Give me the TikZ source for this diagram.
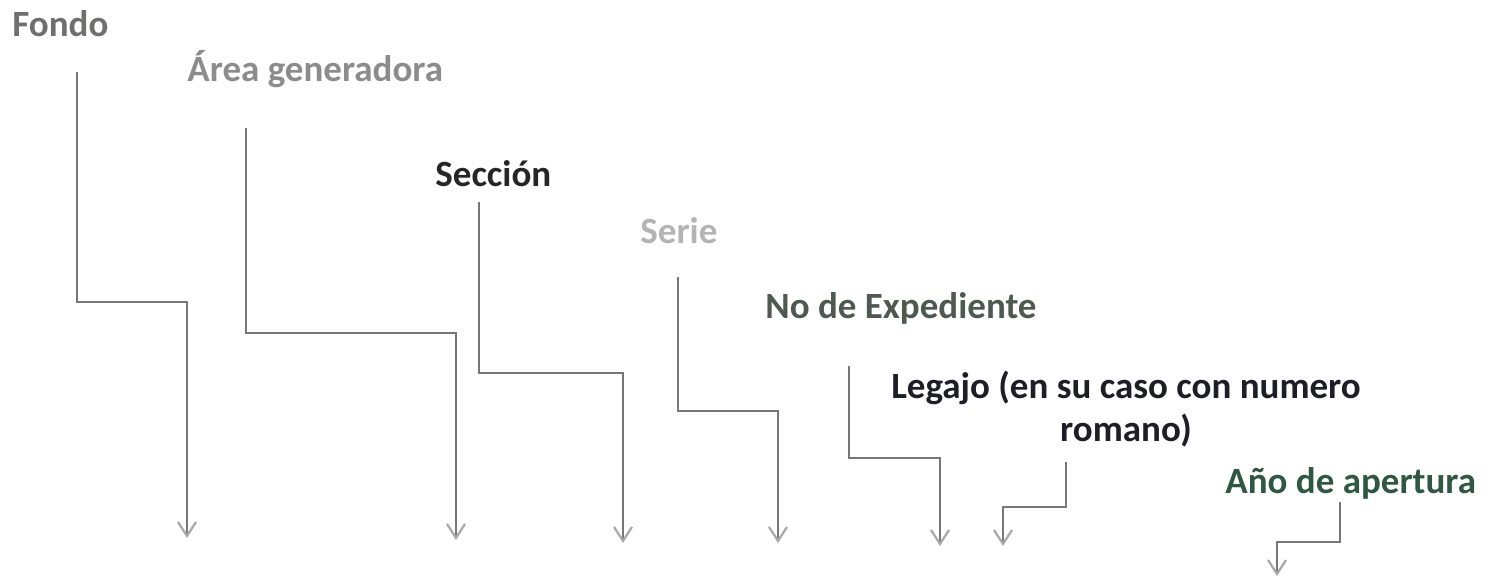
\documentclass[tikz,border=0pt]{standalone}
\usepackage{fontspec}
\setmainfont{Carlito}
\usetikzlibrary{arrows.meta}
\definecolor{cFondo}{HTML}{6E706E}
\definecolor{cArea}{HTML}{8C8C8C}
\definecolor{cSeccion}{HTML}{262626}
\definecolor{cSerie}{HTML}{B4B4B4}
\definecolor{cExp}{HTML}{4E5A50}
\definecolor{cLegajo}{HTML}{1E1E26}
\definecolor{cAnio}{HTML}{2E5842}
\definecolor{cLine}{HTML}{777777}
\definecolor{cTip}{HTML}{A8A8A8}
\begin{document}
\begin{tikzpicture}[x=0.5pt,y=-0.5pt,
  lbl/.style={inner sep=0pt, font=\fontsize{18.5}{21.5}\selectfont\bfseries},
  stair/.style={draw=cLine, line width=1.1pt,
    -{Straight Barb[length=7pt,width=9pt,color=cTip,line width=1.1pt]}}]
\useasboundingbox[fill=white] (0,0) rectangle (1494,583);

\node[lbl, anchor=base west, text=cFondo] (fondo) at (12,37) {Fondo};
\node[lbl, anchor=base west, text=cArea] (area) at (187,82) {Área generadora};
\node[lbl, anchor=base west, text=cSeccion] (seccion) at (435,186) {Sección};
\node[lbl, anchor=base west, text=cSerie] (serie) at (640,243) {Serie};
\node[lbl, anchor=base west, text=cExp] (exp) at (765,318) {No de Expediente};
\node[lbl, anchor=north, align=center, text=cLegajo] (legajo) at (1126,371) {Legajo (en su caso con numero\\romano)};
\node[lbl, anchor=base west, text=cAnio] (anio) at (1225,493) {Año de apertura};

\coordinate (f1) at (77,72);   \coordinate (f2) at (187,538);
\coordinate (a1) at (246,128); \coordinate (a2) at (456,540);
\coordinate (s1) at (479,202); \coordinate (s2) at (623,543);
\coordinate (r1) at (678,277); \coordinate (r2) at (778,543);
\coordinate (e1) at (849,366); \coordinate (e2) at (940,546);
\coordinate (l1) at (1066,462); \coordinate (l2) at (1003,546);
\coordinate (y1) at (1340,502); \coordinate (y2) at (1277,576);

\draw[stair] (f1) |- (187,302) -- (f2);
\draw[stair] (a1) |- (456,333) -- (a2);
\draw[stair] (s1) |- (623,373) -- (s2);
\draw[stair] (r1) |- (778,411) -- (r2);
\draw[stair] (e1) |- (940,458) -- (e2);
\draw[stair] (l1) |- (1003,507) -- (l2);
\draw[stair] (y1) |- (1277,542) -- (y2);
\end{tikzpicture}
\end{document}
